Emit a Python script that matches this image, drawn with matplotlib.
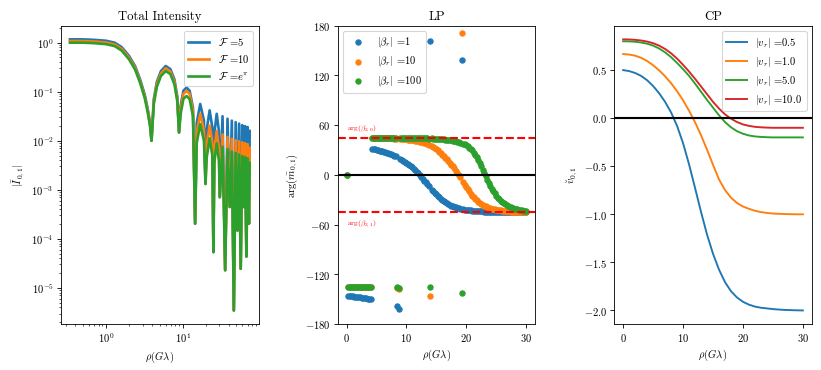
import matplotlib.pyplot as plt
import numpy as np

plt.rcParams['font.family'] = 'serif'
plt.rcParams['font.serif'] = ['cmr10']
plt.rcParams['mathtext.fontset'] = 'cm'
plt.rcParams['axes.formatter.use_mathtext'] = True

# ---- total intensity (values read as log10) ----
x_int = [0.34, 0.5, 0.7, 1.0, 1.3, 1.6, 2.0, 2.4, 2.8, 3.2, 3.5, 3.75, 3.92,
         4.2, 4.6, 5.2, 6.0, 6.9, 7.8, 8.5, 8.95,
         9.4, 10.2, 11.2, 12.3, 13.6, 14.5,
         15.2, 16.9, 18.9, 19.8,
         20.5, 22.4, 24.3, 25.1,
         25.8, 27.7, 29.6, 30.4,
         33.0, 35.7, 38.3, 41.0, 43.6, 46.3, 48.9, 51.6, 54.2, 56.9,
         59.5, 62.2, 64.8, 67.5, 70.1, 72.8, 74.5]

int_f5 = [0.068, 0.068, 0.058, 0.04, 0.0, -0.09, -0.27, -0.48, -0.76, -1.06, -1.35, -1.63, -2.0,
          -1.15, -0.8, -0.58, -0.475, -0.54, -0.75, -1.1, -1.83,
          -1.28, -0.98, -0.915, -0.98, -1.33, -3.69,
          -1.64, -1.25, -1.59, -2.88,
          -1.78, -1.38, -1.73, -4.27,
          -1.85, -1.45, -1.8, -3.15,
          -1.5, -4.64, -1.55, -3.35, -1.59, -5.46, -1.62, -3.83, -1.65, -4.61,
          -1.68, -3.35, -1.70, -4.36, -1.72, -3.69, -1.8]

int_f10 = [0.034, 0.034, 0.024, 0.005, -0.035, -0.125, -0.305, -0.515, -0.795, -1.095, -1.385, -1.665, -2.0,
           -1.2, -0.85, -0.63, -0.52, -0.59, -0.8, -1.15, -1.83,
           -1.345, -1.045, -0.98, -1.045, -1.395, -3.69,
           -1.84, -1.45, -1.79, -2.88,
           -2.09, -1.69, -2.04, -4.27,
           -2.2, -1.8, -2.15, -3.15,
           -1.87, -4.64, -1.92, -3.35, -1.96, -5.46, -1.99, -3.83, -2.01, -4.61,
           -2.03, -3.35, -2.05, -4.36, -2.07, -3.69, -2.15]

int_fe = [0.0, 0.0, -0.01, -0.03, -0.07, -0.16, -0.34, -0.55, -0.83, -1.13, -1.42, -1.7, -2.0,
          -1.25, -0.9, -0.68, -0.58, -0.64, -0.85, -1.2, -1.83,
          -1.45, -1.15, -1.085, -1.15, -1.5, -3.69,
          -2.05, -1.66, -2.0, -2.88,
          -2.35, -1.95, -2.3, -4.27,
          -2.45, -2.05, -2.4, -3.15,
          -2.12, -4.64, -2.17, -3.35, -2.22, -5.46, -2.25, -3.83, -2.28, -4.61,
          -2.31, -3.35, -2.33, -4.36, -2.36, -3.69, -2.45]

int_labels = [r'$\mathcal{F}$ =5', r'$\mathcal{F}$ =10', r'$\mathcal{F}$ =$e^{\pi}$']

# ---- LP phase, one value every 0.25 from 0 to 30 (4 per row) ----
x_lp = np.arange(121) * 0.25

lp_b1 = [0, -146.0, -146.3, -146.5,
         -146.8, -147.0, -147.3, -147.5,
         -147.8, -148.0, -148.3, -148.5,
         -148.8, -149.0, -149.3, -149.5,
         -149.8, 31.5, 31.2, 30.7,
         30.2, 29.8, 29.4, 28.9,
         28.4, 27.9, 27.3, 26.7,
         26.1, 25.4, 24.7, 23.9,
         23.1, 22.3, -158, -162,
         19.3, 18.3, 17.2, 16.0,
         14.8, 13.5, 12.0, 10.5,
         9.0, 7.3, 5.5, 3.7,
         1.8, -0.3, -2.4, -4.6,
         -6.8, -9.0, -11.2, -13.4,
         162, -17.7, -19.7, -21.7,
         -23.6, -25.4, -27.1, -28.7,
         -30.2, -31.6, -32.9, -34.1,
         -35.2, -36.2, -37.1, -37.9,
         -38.6, -39.2, -39.8, -40.3,
         -40.8, 139, -41.5, -41.9,
         -42.2, -42.5, -42.7, -42.9,
         -43.1, -43.3, -43.5, -43.6,
         -43.8, -43.9, -44.0, -44.1,
         -44.2, -44.3, -44.4, -44.4,
         -44.5, -44.5, -44.6, -44.6,
         -44.7, -44.7, -44.7, -44.8,
         -44.8, -44.8, -44.8, -44.9,
         -44.9, -44.9, -44.9, -44.9,
         -45.0, -45.0, -45.0, -45.0,
         -45.0, -45.0, -45.0, -45.0,
         -45.0]

lp_b10 = [0, -135, -135, -135,
          -135, -135, -135, -135,
          -135, -135, -135, -135,
          -135, -135, -135, -135,
          -135, 44.8, 44.7, 44.7,
          44.6, 44.6, 44.5, 44.5,
          44.4, 44.4, 44.3, 44.3,
          44.2, 44.2, 44.1, 44.0,
          43.9, 43.8, -137, -138,
          43.5, 43.4, 43.2, 43.1,
          42.9, 42.7, 42.5, 42.3,
          42.0, 41.7, 41.4, 41.0,
          40.6, 40.2, 39.8, 39.3,
          38.7, 38.1, 37.4, 36.6,
          -146, 34.7, 33.6, 32.4,
          31.0, 29.5, 27.9, 26.2,
          24.4, 22.6, 20.8, 18.9,
          17.0, 14.8, 12.5, 10.2,
          8.0, 5.2, 2.4, -0.3,
          -3.0, 171, -8.8, -11.7,
          -14.5, -17.3, -20.0, -22.6,
          -25.0, -27.1, -29.0, -30.8,
          -32.4, -33.8, -35.0, -36.1,
          -37.1, -38.0, -38.7, -39.4,
          -40.0, -40.6, -41.1, -41.5,
          -41.9, -42.3, -42.6, -42.9,
          -43.2, -43.4, -43.6, -43.8,
          -44.0, -44.1, -44.2, -44.3,
          -44.4, -44.5, -44.6, -44.6,
          -44.7, -44.8, -44.8, -44.9,
          -44.9]

lp_b100 = [0, -135, -135, -135,
           -135, -135, -135, -135,
           -135, -135, -135, -135,
           -135, -135, -135, -135,
           -135, 45.0, 45.0, 45.0,
           45.0, 45.0, 44.9, 44.9,
           44.9, 44.9, 44.9, 44.8,
           44.8, 44.8, 44.8, 44.8,
           44.7, 44.7, -135.5, -136.5,
           44.7, 44.7, 44.6, 44.6,
           44.6, 44.5, 44.5, 44.5,
           44.4, 44.4, 44.4, 44.3,
           44.3, 44.2, 44.2, 44.1,
           44.1, 44.0, 44.0, 43.9,
           -135.5, 44.0, 43.9, 43.8,
           43.7, 43.6, 43.5, 43.3,
           43.1, 42.9, 42.7, 42.5,
           42.2, 41.9, 41.6, 41.3,
           40.9, 40.5, 40.1, 39.6,
           39.0, -142, 37.7, 36.9,
           36.0, 34.6, 33.0, 31.3,
           29.5, 27.0, 24.2, 21.1,
           17.8, 14.2, 10.4, 6.4,
           2.3, -1.8, -5.8, -9.6,
           -13.2, -16.5, -19.6, -22.4,
           -25.0, -27.3, -29.3, -31.1,
           -32.7, -34.1, -35.3, -36.4,
           -37.4, -38.3, -39.1, -39.8,
           -40.6, -41.2, -41.7, -42.1,
           -42.5, -42.9, -43.2, -43.5,
           -43.8]

lp_labels = [r'$|\beta_r|$ =1', r'$|\beta_r|$ =10', r'$|\beta_r|$ =100']

# ---- CP ----
x_cp = list(range(31))
cp_05 = [0.50, 0.49, 0.47, 0.44, 0.395, 0.335, 0.26, 0.17, 0.06, -0.08,
         -0.26, -0.48, -0.725, -0.975, -1.21, -1.41, -1.575, -1.705, -1.80, -1.865,
         -1.91, -1.94, -1.96, -1.972, -1.979, -1.986, -1.991, -1.995, -1.997, -1.999, -2.0]
cp_1 = [0.667, 0.662, 0.650, 0.628, 0.595, 0.551, 0.498, 0.436, 0.364, 0.281,
        0.186, 0.078, -0.042, -0.177, -0.327, -0.485, -0.637, -0.747, -0.827, -0.882,
        -0.919, -0.943, -0.963, -0.977, -0.986, -0.992, -0.995, -0.997, -0.999, -1.0, -1.0]
cp_5 = [0.80, 0.799, 0.795, 0.787, 0.775, 0.755, 0.725, 0.685, 0.635, 0.575,
        0.51, 0.44, 0.36, 0.275, 0.19, 0.11, 0.03, -0.04, -0.095, -0.135,
        -0.162, -0.18, -0.19, -0.195, -0.198, -0.2, -0.2, -0.2, -0.2, -0.2, -0.2]
cp_10 = [0.82, 0.819, 0.815, 0.808, 0.797, 0.78, 0.755, 0.72, 0.675, 0.62,
         0.555, 0.485, 0.41, 0.33, 0.25, 0.17, 0.10, 0.04, -0.005, -0.04,
         -0.065, -0.08, -0.09, -0.095, -0.098, -0.1, -0.1, -0.1, -0.1, -0.1, -0.1]
cp_labels = [r'$|v_r|$ =0.5', r'$|v_r|$ =1.0', r'$|v_r|$ =5.0', r'$|v_r|$ =10.0']

fig, axs = plt.subplots(1, 3, figsize=(10.8, 4.865))
fig.subplots_adjust(left=0.0742, right=0.9878, bottom=0.1243, top=0.9297, wspace=0.399)

# intensidad total
ax = axs[0]
for ys, lab in zip([int_f5, int_f10, int_fe], int_labels):
    ax.plot(x_int, 10 ** np.array(ys), lw=2.5, label=lab)
ax.set_xscale('log')
ax.set_yscale('log')
ax.set_title('Total Intensity')
ax.set_xlabel(r'$\rho(G\lambda)$')
ax.set_ylabel(r'$|\bar{I}_{0,1}|$')
ax.legend(loc='upper right')

# LP
ax = axs[1]
for ys, lab in zip([lp_b1, lp_b10, lp_b100], lp_labels):
    ax.scatter(x_lp, ys, s=25, label=lab)
ax.axhline(0, color='k', lw=2)
ax.axhline(45, color='r', ls='--', lw=2)
ax.axhline(-45, color='r', ls='--', lw=2)
ax.text(0, 50, r'$\arg(\beta_{2,0})$', color='r', fontsize=7, va='bottom')
ax.text(0, -52, r'$\arg(\beta_{2,1})$', color='r', fontsize=7, va='top')
ax.set_ylim(-180, 180)
ax.set_yticks(range(-180, 181, 60))
ax.set_title('LP')
ax.set_xlabel(r'$\rho(G\lambda)$')
ax.set_ylabel(r'$\arg(\bar{m}_{0,1})$')
ax.legend(loc='upper left')

# CP
ax = axs[2]
for ys, lab in zip([cp_05, cp_1, cp_5, cp_10], cp_labels):
    ax.plot(x_cp, ys, lw=1.8, label=lab)
ax.axhline(0, color='k', lw=2)
ax.set_title('CP')
ax.set_xlabel(r'$\rho(G\lambda)$')
ax.set_ylabel(r'$\breve{v}_{0,1}$')
ax.legend(loc='upper right')

fig.savefig('out.png', dpi=76.1)
